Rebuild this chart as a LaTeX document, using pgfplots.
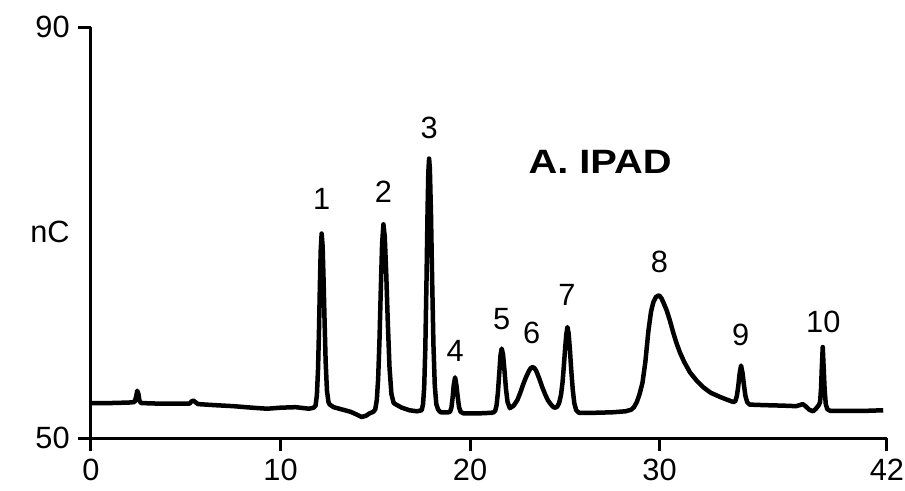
\documentclass[border=0pt]{standalone}
\usepackage{fontspec}
\setmainfont{Liberation Sans}
\newfontfamily\titlefont{Liberation Sans}[FakeStretch=1.18]
\usepackage{pgfplots}
\pgfplotsset{compat=1.18}

% chromatogram trace (time in min, signal in nC)
\pgfplotstableread{
t v
0 53.4
1 53.4
2 53.45
2.3 53.5
2.38 54.0
2.44 54.6
2.5 54.3
2.56 53.6
2.65 53.4
3.5 53.35
4.5 53.35
5.2 53.35
5.3 53.55
5.4 53.65
5.5 53.5
5.65 53.3
6.5 53.2
7.5 53.1
8.5 52.95
9.3 52.85
10 52.95
10.8 53.0
11.5 52.85
11.75 52.95
11.85 53.15
11.92 54.2
11.98 56.7
12.03 60.5
12.08 65.1
12.12 68.2
12.17 69.9
12.22 68.7
12.27 65.5
12.32 61.7
12.38 57.5
12.45 54.6
12.53 53.5
12.6 53.25
12.8 53.0
13.2 52.8
13.7 52.55
14.0 52.3
14.28 52.05
14.5 52.15
14.7 52.4
14.9 52.55
15.0 52.8
15.08 53.7
15.15 55.7
15.22 59.4
15.29 64.4
15.36 68.9
15.43 70.8
15.5 69.6
15.58 65.9
15.66 61.3
15.75 56.9
15.85 54.3
15.97 53.4
16.1 53.25
16.4 52.95
16.8 52.7
17.2 52.6
17.45 52.7
17.52 53.3
17.58 54.9
17.64 58.7
17.70 65.0
17.76 72.3
17.80 75.9
17.84 77.2
17.88 76.2
17.94 71.7
18.00 65.4
18.07 59.0
18.14 55.1
18.22 53.3
18.32 52.75
18.45 52.5
18.6 52.5
18.85 52.5
18.95 52.55
19.02 53.0
19.08 53.9
19.14 55.15
19.21 55.9
19.28 55.15
19.35 54.0
19.42 53.0
19.5 52.55
19.65 52.4
20.5 52.4
21.1 52.45
21.25 52.5
21.33 52.65
21.40 53.2
21.47 54.4
21.54 56.25
21.61 58.1
21.67 58.7
21.74 58.15
21.82 56.5
21.90 54.7
21.98 53.5
22.1 52.9
22.3 53.15
22.5 53.7
22.65 54.4
22.8 55.2
22.95 55.9
23.1 56.5
23.2 56.8
23.3 56.9
23.4 56.8
23.5 56.5
23.65 55.8
23.8 55.0
23.95 54.3
24.1 53.7
24.25 53.3
24.4 53.0
24.5 52.95
24.6 53.05
24.7 53.4
24.8 54.2
24.88 55.4
24.95 57.0
25.02 58.8
25.08 60.1
25.14 60.8
25.2 60.2
25.27 58.6
25.34 56.6
25.42 54.7
25.5 53.4
25.6 52.7
25.75 52.45
26.5 52.45
27.5 52.5
28.2 52.6
28.5 52.75
28.65 53.0
28.8 53.5
28.95 54.3
29.1 55.4
29.25 57.4
29.41 60.4
29.55 62.3
29.67 63.2
29.8 63.7
29.92 63.85
29.99 63.85
30.1 63.6
30.2 63.2
30.38 62.4
30.55 61.4
30.73 60.2
30.9 59.2
31.08 58.3
31.3 57.4
31.6 56.4
31.95 55.6
32.3 54.95
32.7 54.4
33.19 54.0
33.6 53.7
33.9 53.5
34.0 53.6
34.08 54.1
34.15 55.0
34.22 56.2
34.3 57.05
34.38 56.3
34.45 55.2
34.53 54.1
34.62 53.5
34.75 53.25
35.5 53.2
36.5 53.15
37.2 53.1
37.4 53.2
37.55 53.3
37.7 53.1
37.9 52.75
38.1 52.6
38.25 52.85
38.4 53.2
38.47 53.5
38.52 54.8
38.56 56.8
38.61 58.85
38.66 56.8
38.71 54.7
38.77 53.3
38.85 52.8
39.0 52.65
40 52.65
41 52.65
41.8 52.7
}\trace

\begin{document}
\begin{tikzpicture}[font=\fontsize{12.3}{14}\selectfont]
\begin{axis}[
    scale only axis, width=318.4pt, height=164.4pt,
    xmin=0, xmax=42, ymin=50, ymax=90,
    axis lines*=left, axis line style={line width=1.2pt, -},
    xtick={0,10,20,30,42}, ytick={50,90},
    tick align=outside, major tick length=5pt,
    tick style={line width=1.2pt, black},
    /pgf/number format/assume math mode=true,
    clip=false,
]
    \addplot[black, line width=1.8pt, line join=round, no marks] table[x=t, y=v] {\trace};

    \node[anchor=east] at (axis cs:0,70.05) [xshift=-5pt] {nC};
    \node at (axis cs:12.17,73.3) {1};
    \node at (axis cs:15.43,74.0) {2};
    \node at (axis cs:17.84,80.2) {3};
    \node at (axis cs:19.21,58.5) {4};
    \node at (axis cs:21.67,61.6) {5};
    \node at (axis cs:23.25,60.2) {6};
    \node at (axis cs:25.11,63.9) {7};
    \node at (axis cs:29.99,67.1) {8};
    \node at (axis cs:34.28,60.0) {9};
    \node at (axis cs:38.64,61.3) {10};
    \node at (axis cs:26.86,76.9) {\fontsize{13.5}{15}\selectfont\titlefont\bfseries A. IPAD};
\end{axis}
\pgfresetboundingbox
\path (-36.4pt,-20.8pt) rectangle (325.6pt,175.2pt);
\end{tikzpicture}
\end{document}
